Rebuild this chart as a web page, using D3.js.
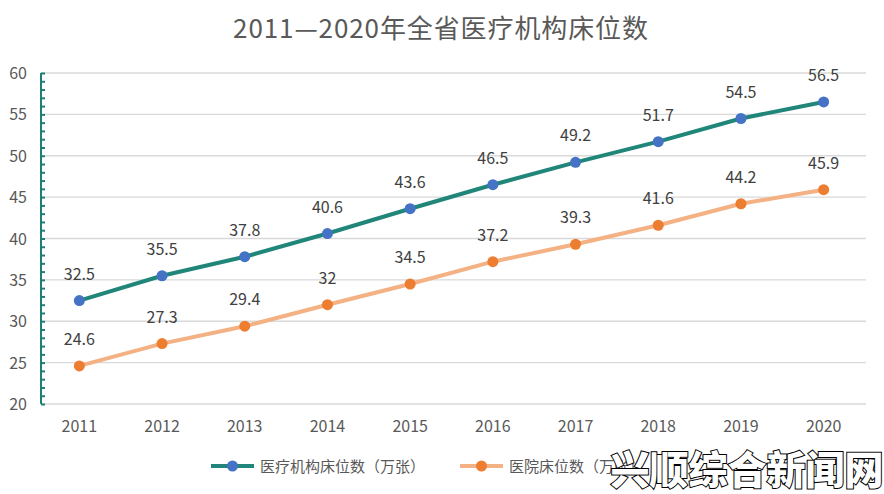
<!DOCTYPE html>
<html><head><meta charset="utf-8">
<script src="https://cdn.jsdelivr.net/npm/d3@7"></script>
<style>body{margin:0;background:#fff}svg{display:block}</style>
</head><body>
<svg id="c" width="884" height="494"></svg>
<script>
const years = ["2011","2012","2013","2014","2015","2016","2017","2018","2019","2020"];
const institutionBeds = [32.5,35.5,37.8,40.6,43.6,46.5,49.2,51.7,54.5,56.5];
const hospitalBeds = [24.6,27.3,29.4,32,34.5,37.2,39.3,41.6,44.2,45.9];
const yTicks = [20,25,30,35,40,45,50,55,60];
const seriesNames = ["医疗机构床位数（万张）","医院床位数（万张）"];
const title = "2011—2020年全省医疗机构床位数";

const svg = d3.select("#c");
const font = "'Noto Sans CJK SC','Microsoft YaHei',sans-serif";
const L = 39, R = 866, T = 73, B = 404;
const x = d3.scaleBand().domain(years).range([L, R]);
const y = d3.scaleLinear().domain([20, 60]).range([B, T]);
const cx = d => x(d) + x.bandwidth()/2;

svg.append("text").attr("x", 441).attr("y", 38).attr("text-anchor","middle")
  .attr("font-family", font).attr("font-size", 26).attr("letter-spacing", 0.9)
  .attr("fill", "#595959").text(title);

// gridlines
svg.append("g").selectAll("line").data(yTicks).join("line")
  .attr("x1", 41).attr("x2", R).attr("y1", d=>y(d)).attr("y2", d=>y(d))
  .attr("stroke", "#D9D9D9").attr("stroke-width", 1.3);

// y axis
const yAxis = svg.append("g").attr("transform", `translate(41,0)`)
  .call(d3.axisRight(y).tickValues(d3.range(20, 61, 1)).tickSize(4).tickFormat(""));
yAxis.selectAll("line,path").attr("stroke", "#1E8074").attr("stroke-width", 2);
yAxis.select("path").attr("d", `M0,${y(20)}V${y(60)}`);

svg.append("g").selectAll("text").data(yTicks).join("text")
  .attr("x", 27).attr("y", d=>y(d)+6).attr("text-anchor","end")
  .attr("font-family", font).attr("font-size", 16).attr("fill", "#595959").text(d=>d);

// x labels
svg.append("g").selectAll("text").data(years).join("text")
  .attr("x", d=>cx(d)-1).attr("y", 432).attr("text-anchor","middle")
  .attr("font-family", font).attr("font-size", 16).attr("fill", "#595959").text(d=>d);

const series = [
  {vals: institutionBeds, line: "#21867A", dot: "#4472C4"},
  {vals: hospitalBeds, line: "#F4B183", dot: "#ED7D31"}
];
const lineGen = d3.line().x((d,i)=>cx(years[i])-1).y(d=>y(d));
series.forEach(s => {
  svg.append("path").datum(s.vals).attr("d", lineGen).attr("fill","none")
    .attr("stroke", s.line).attr("stroke-width", 4).attr("stroke-linejoin","round");
  svg.append("g").selectAll("circle").data(s.vals).join("circle")
    .attr("cx", (d,i)=>cx(years[i])-1).attr("cy", d=>y(d)).attr("r", 5.5).attr("fill", s.dot);
  svg.append("g").selectAll("text").data(s.vals).join("text")
    .attr("x", (d,i)=>cx(years[i])-1).attr("y", d=>y(d)-21).attr("text-anchor","middle")
    .attr("font-family", font).attr("font-size", 16).attr("fill", "#404040").text(d=>d);
});

// legend
const legX = [211, 460];
series.forEach((s, i) => {
  const g = svg.append("g").attr("transform", `translate(${legX[i]},466)`);
  g.append("line").attr("x1",0).attr("x2",43).attr("stroke", s.line).attr("stroke-width",4);
  g.append("circle").attr("cx",21.5).attr("r",5.5).attr("fill", s.dot);
  g.append("text").attr("x",49).attr("y",6).attr("font-family", font).attr("font-size",15)
    .attr("fill","#595959").text(seriesNames[i]);
});

// watermark
svg.append("text").attr("x", 747).attr("y", 484).attr("text-anchor","middle")
  .attr("font-family", font).attr("font-weight", 900).attr("font-size", 39)
  .attr("fill", "#fff").attr("stroke", "#000").attr("stroke-width", 2)
  .attr("paint-order","stroke").text("兴顺综合新闻网");
</script>
</body></html>
